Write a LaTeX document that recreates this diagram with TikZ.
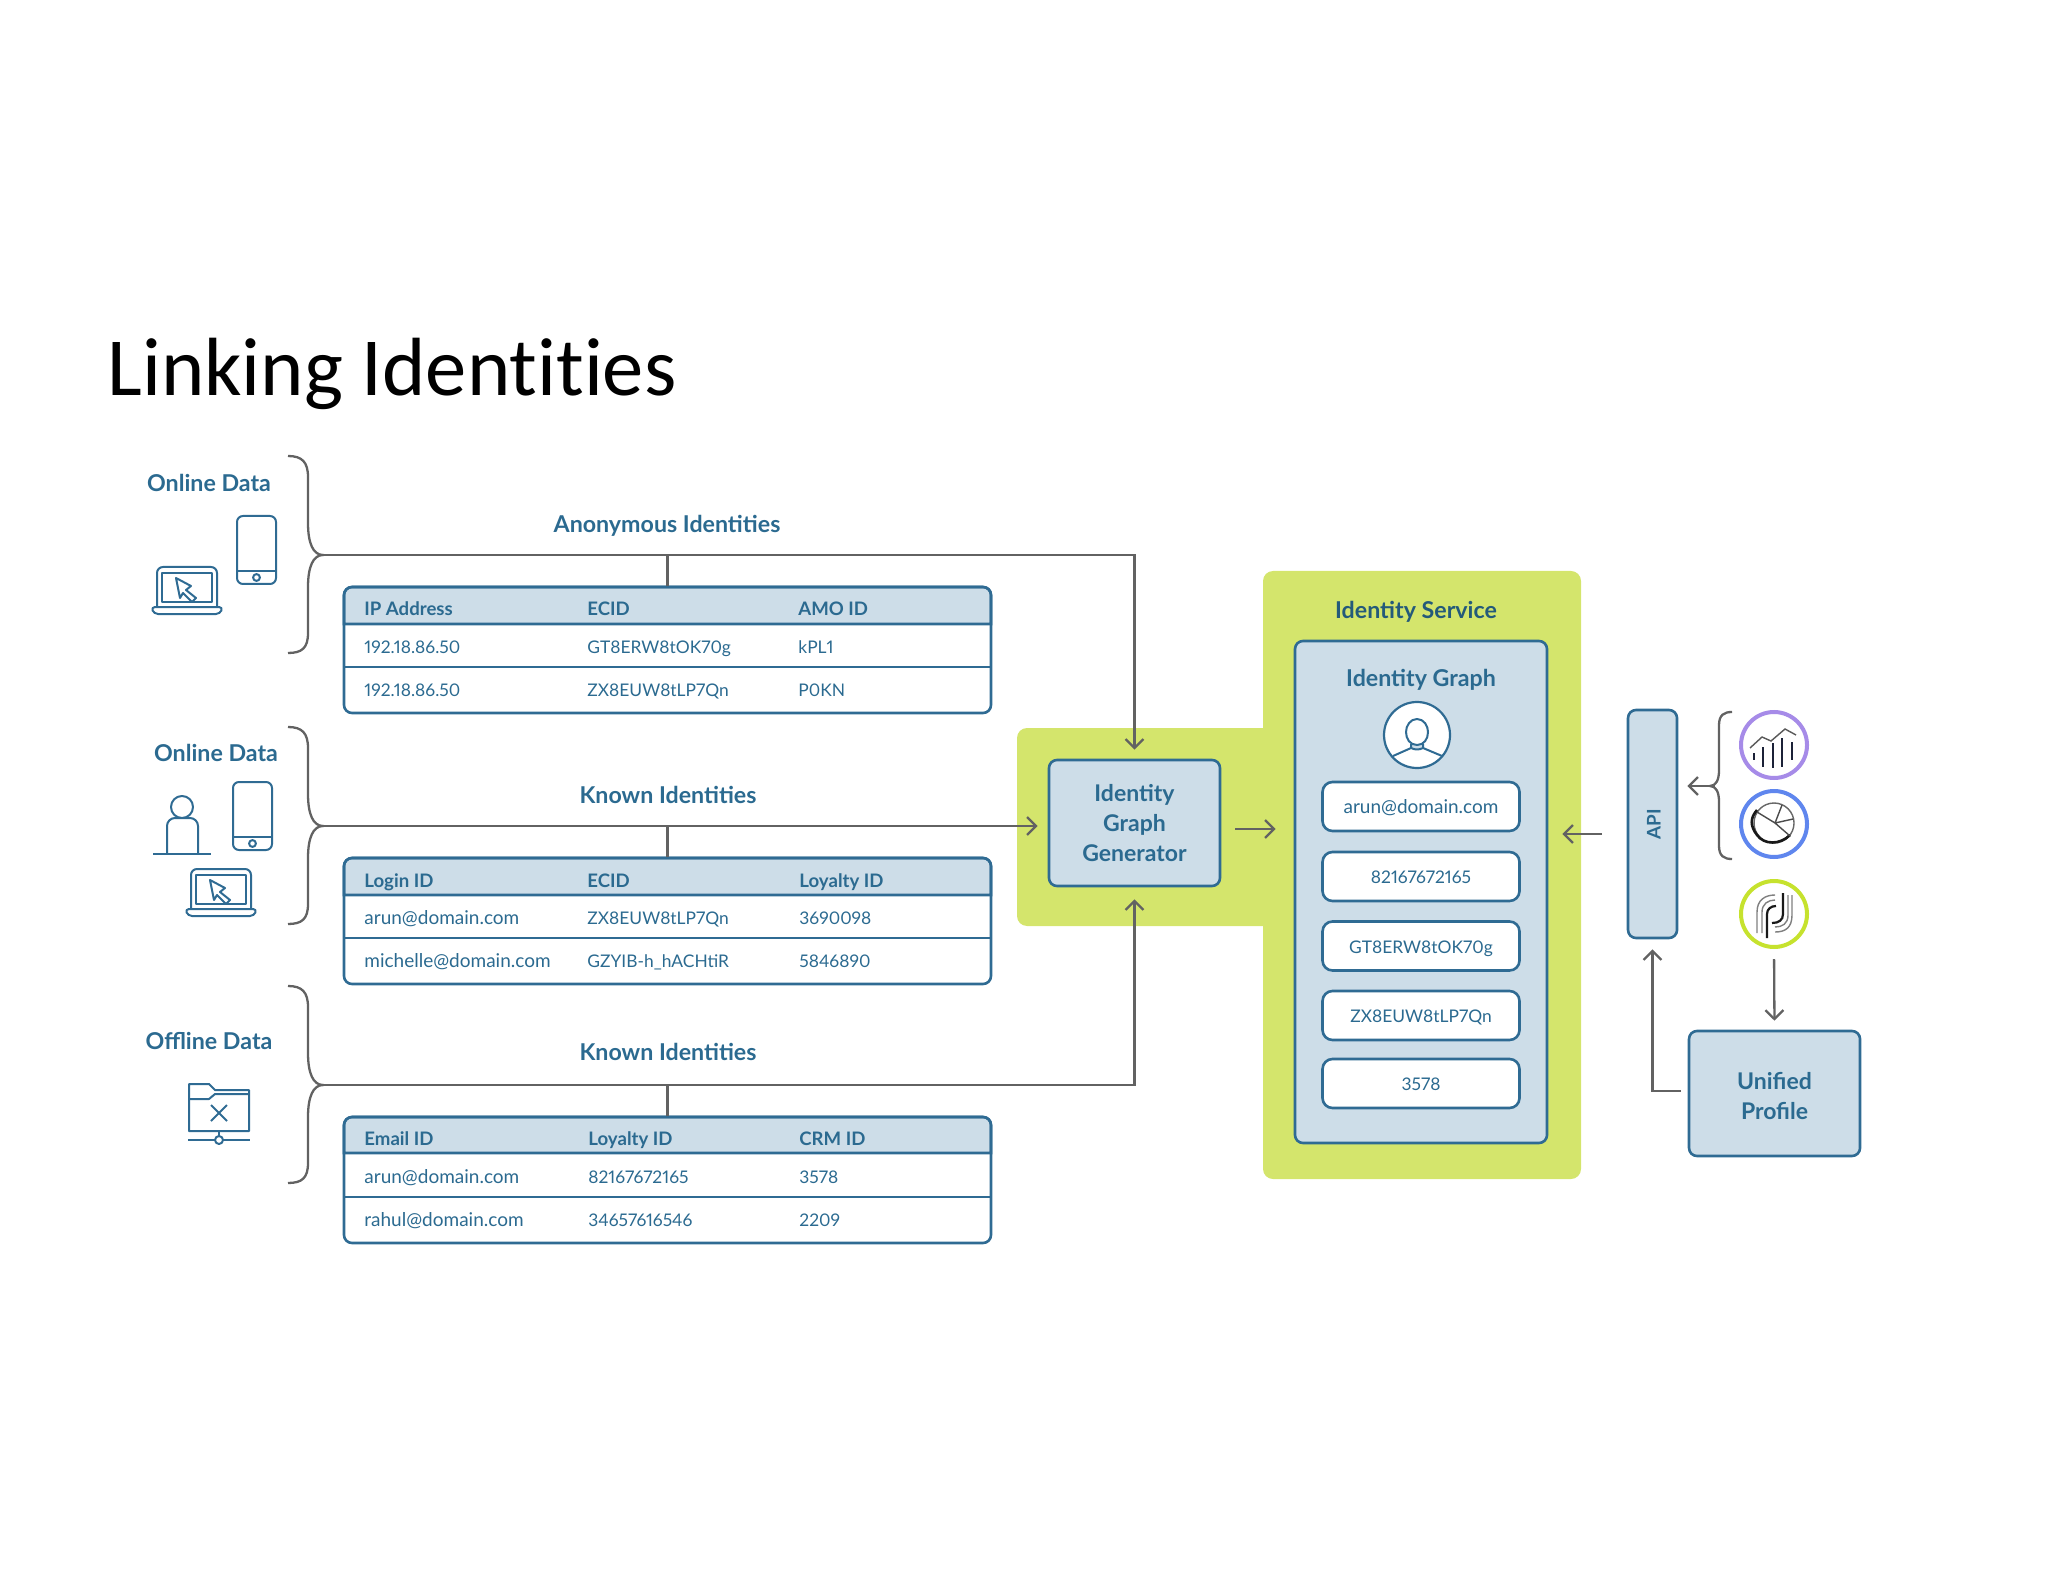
\documentclass[tikz,border=0pt]{standalone}
\usepackage{fontspec}
\setmainfont{Lato}[Numbers=Proportional]
\newfontfamily\titlefont{Carlito}[Ligatures=NoCommon]
\usetikzlibrary{arrows.meta, positioning}
\definecolor{lineBlue}{HTML}{2F6B93}
\definecolor{textBlue}{HTML}{2B6A90}
\definecolor{paleBlue}{HTML}{CDDDE8}
\definecolor{limeGreen}{HTML}{D4E56C}
\definecolor{flowGray}{HTML}{626262}
\definecolor{logoPurple}{HTML}{A68BE8}
\definecolor{logoBlue}{HTML}{5F86EE}
\definecolor{logoLime}{HTML}{C6E22E}
\definecolor{logoInk}{HTML}{1C2238}
\tikzset{
    >={Straight Barb[length=4.5pt,width=9pt]},
    % Panels
    greenPanel/.style={fill=limeGreen, rounded corners=5pt},
    box/.style={rectangle, draw=lineBlue, fill=paleBlue, line width=1.3pt, rounded corners=4pt, align=center,
                text=textBlue, font=\bfseries\fontsize{11.5}{15}\selectfont},
    pill/.style={rectangle, draw=lineBlue, fill=white, line width=1.3pt, rounded corners=5pt,
                 minimum width=98.5pt, minimum height=24.5pt, text height=7pt, text depth=0pt,
                 text=textBlue, font=\fontsize{9.5}{11}\selectfont},
    tbl/.style={rectangle, draw=lineBlue, line width=1.3pt, rounded corners=4pt, minimum width=323.5pt, minimum height=63pt},
    tblHead/.style={draw=lineBlue, fill=paleBlue, line width=1.3pt},
    tblRule/.style={draw=lineBlue, line width=1.3pt},
    cell/.style={anchor=west, inner sep=0pt, text height=7pt, text depth=0pt, text=textBlue, font=\fontsize{9.5}{11}\selectfont},
    headCell/.style={cell, font=\bfseries\fontsize{9.3}{11}\selectfont},
    code/.style={font=\fontsize{8.7}{11}\selectfont},
    lbl/.style={inner sep=0pt, text height=8pt, text depth=0pt, text=textBlue, font=\bfseries\fontsize{11.6}{13}\selectfont},
    logo/.style={circle, draw, fill=white, line width=2pt, minimum size=33pt, inner sep=0pt},
    % Flow & icons
    flow/.style={->, draw=flowGray, line width=1.15pt},
    curly/.style={draw=flowGray, line width=1.15pt},
    icon/.style={draw=lineBlue, line width=1pt, line join=round},
    phone/.pic={
        \draw[icon, rounded corners=3pt] (0,0) rectangle (39,68);
        \draw[icon] (0,55) -- (39,55);
        \draw[icon] (19.5,61.5) circle (1.7pt);
    },
    laptop/.pic={
        \draw[icon, rounded corners=3pt] (6,40) -- (6,0) -- (66,0) -- (66,40);
        \draw[icon] (11,6) rectangle (61,35);
        \draw[icon, rounded corners=2pt] (0,40) -- (72,40) -- (69,47) -- (3,47) -- cycle;
        \draw[icon] (25,11) -- (40,19) -- (35,23) -- (45,31) -- (41,35) -- (32,26) -- (29,31) -- cycle;
    },
    bigBrace/.pic={
        \coordinate (-tip) at (0,0);
        \draw[curly] (-35,-99) .. controls (-21,-99) and (-15,-93) .. (-15,-78) -- (-15,-32)
            .. controls (-15,-12) and (-10,0) .. (0,0) .. controls (-10,0) and (-15,12) .. (-15,32)
            -- (-15,78) .. controls (-15,93) and (-21,98) .. (-35,98);
    }
}

\begin{document}
\begin{tikzpicture}[x=0.5pt, y=-0.5pt]
\useasboundingbox (0,0) rectangle (2048,1582);

\node[anchor=base west, inner sep=0pt, font=\titlefont\fontsize{41.3}{44}\selectfont] (title) at (107,396) {Linking Identities};

% green background
\fill[greenPanel] (1017,728) rectangle (1300,926);
\fill[greenPanel] (1263,571) rectangle (1581,1179);

% left labels and icons
\node[lbl] (srcA) at (209,484) {Online Data};
\node[lbl] (srcB) at (216,753) {Online Data};
\node[lbl] (srcC) at (209,1041) {Offline Data};
\pic at (237,516) {phone};
\pic at (151,567) {laptop};
\pic at (233,782) {phone};
\pic at (185,869) {laptop};
\draw[icon] (182,807) circle (5.5pt);
\draw[icon, rounded corners=4pt] (167,854) -- (167,818) -- (198,818) -- (198,854);
\draw[icon] (153,854) -- (211,854);
\draw[icon] (189,1131) -- (189,1084) -- (209,1084) -- (215,1090) -- (249,1090) -- (249,1131) -- cycle;
\draw[icon] (189,1099) -- (209,1099) -- (215,1094) -- (249,1094);
\draw[icon] (211,1105) -- (227,1121) (227,1105) -- (211,1121);
\draw[icon] (219,1131) -- (219,1136);
\draw[icon] (219,1140) circle (2pt);
\draw[icon] (188,1140) -- (215,1140) (223,1140) -- (250,1140);

% braces
\pic (braceA) at (323,555) {bigBrace};
\pic (braceB) at (323,826) {bigBrace};
\pic (braceC) at (323,1085) {bigBrace};

\node[lbl] (anon) at (667,525) {Anonymous Identities};
\node[lbl] (knownA) at (668,795) {Known Identities};
\node[lbl] (knownB) at (668,1052) {Known Identities};

% table 1
\fill[tblHead] (344,624) [rounded corners=4pt] -- (344,587) -- (991,587) [sharp corners] -- (991,624) -- cycle;
\node[tbl] (tblA) at (667.5,650) {};
\draw[tblRule] (344,667) -- (991,667);
\node[headCell] (a1) at (364,608) {IP Address};
\node[headCell] (a2) at (587,608) {ECID};
\node[headCell] (a3) at (798,608) {AMO ID};
\node[cell, code] (a4) at (364,646) {192.18.86.50};
\node[cell, code] (a5) at (587,646) {GT8ERW8tOK70g};
\node[cell, code] (a6) at (798,646) {kPL1};
\node[cell, code] (a7) at (364,689) {192.18.86.50};
\node[cell, code] (a8) at (587,689) {ZX8EUW8tLP7Qn};
\node[cell, code] (a9) at (798,689) {P0KN};

% table 2
\fill[tblHead] (344,895) [rounded corners=4pt] -- (344,858) -- (991,858) [sharp corners] -- (991,895) -- cycle;
\node[tbl] (tblB) at (667.5,921) {};
\draw[tblRule] (344,938) -- (991,938);
\node[headCell] (b1) at (364,880) {Login ID};
\node[headCell] (b2) at (587,880) {ECID};
\node[headCell] (b3) at (799,880) {Loyalty ID};
\node[cell] (b4) at (364,917) {arun@domain.com};
\node[cell, code] (b5) at (587,917) {ZX8EUW8tLP7Qn};
\node[cell, code] (b6) at (799,917) {3690098};
\node[cell] (b7) at (364,960) {michelle@domain.com};
\node[cell, code] (b8) at (587,960) {GZYIB-h\_hACHtiR};
\node[cell, code] (b9) at (799,960) {5846890};

% table 3
\fill[tblHead] (344,1153) [rounded corners=4pt] -- (344,1117) -- (991,1117) [sharp corners] -- (991,1153) -- cycle;
\node[tbl] (tblC) at (667.5,1180) {};
\draw[tblRule] (344,1197) -- (991,1197);
\node[headCell] (c1) at (364,1138) {Email ID};
\node[headCell] (c2) at (588,1138) {Loyalty ID};
\node[headCell] (c3) at (799,1138) {CRM ID};
\node[cell] (c4) at (364,1176) {arun@domain.com};
\node[cell, code] (c5) at (588,1176) {82167672165};
\node[cell, code] (c6) at (799,1176) {3578};
\node[cell] (c7) at (364,1219) {rahul@domain.com};
\node[cell, code] (c8) at (588,1219) {34657616546};
\node[cell, code] (c9) at (799,1219) {2209};

% generator and graph
\node[box, minimum width=85.5pt, minimum height=63pt] (gen) at (1134.5,823) {Identity\\Graph\\Generator};
\node[lbl, text=textBlue!85!black] (service) at (1416,610) {Identity Service};
\node[box, minimum width=126pt, minimum height=251pt] (graph) at (1421,892) {};
\node[lbl] (graphLbl) at (1421,678) {Identity Graph};
\node[circle, draw=lineBlue, fill=white, line width=1.1pt, minimum size=33pt, inner sep=0pt] (avatar) at (1417,735) {};
\fill[paleBlue] (1411,744) rectangle (1423,749);
\draw[icon, fill=white] (1417,719) .. controls (1424,719) and (1428,726) .. (1428,732)
    .. controls (1428,739) and (1424,745) .. (1417,745) .. controls (1410,745) and (1406,739) .. (1406,732)
    .. controls (1406,726) and (1410,719) .. (1417,719) -- cycle;
\draw[icon] (1393,756) -- (1411,748) -- (1411,744) (1411,748) .. controls (1415,750) and (1419,750) .. (1423,748) -- (1423,744) (1423,748) -- (1442,756);
\node[pill] (pillA) at (1421,806.5) {arun@domain.com};
\node[pill, code] (pillB) at (1421,876.5) {82167672165};
\node[pill, code] (pillC) at (1421,946) {GT8ERW8tOK70g};
\node[pill, code] (pillD) at (1421,1015.5) {ZX8EUW8tLP7Qn};
\node[pill, code] (pillE) at (1421,1083.5) {3578};

% right side
\node[box, minimum width=24.5pt, minimum height=114pt] (api) at (1652.5,824) {};
\node[lbl, rotate=90, font=\bfseries\fontsize{9.4}{11}\selectfont] (apiLbl) at (api.center) {API};
\node[logo, draw=logoPurple] (logoA) at (1774,745) {};
\node[logo, draw=logoBlue] (logoB) at (1774,824) {};
\node[logo, draw=logoLime] (logoC) at (1774,914) {};
\node[box, minimum width=85.5pt, minimum height=62.5pt] (unified) at (1774.5,1093.5) {};
\node[inner sep=0pt, align=center, text=textBlue, font=\bfseries\fontsize{11.5}{15}\selectfont] (unifiedLbl) at (1774.5,1096) {Unified\\Profile};
\coordinate (braceD-tip) at (1710,786);
\coordinate (apiOut) at (1628,834);
\coordinate (genOut) at (1220,829);
\coordinate (unifiedOut) at (1689,1091);
\draw[curly] (1732,712) .. controls (1724,712) and (1719,715) .. (1719,725) -- (1719,770)
    .. controls (1719,780) and (1716,786) .. (braceD-tip) .. controls (1716,786) and (1719,792) .. (1719,802)
    -- (1719,846) .. controls (1719,856) and (1724,859) .. (1732,859);

% logo drawings
\draw[draw=logoInk, line width=1.4pt] (1754,753) -- (1754,760) (1763,747) -- (1763,767) (1773,743) -- (1773,768) (1782,738) -- (1782,767) (1792,742) -- (1792,760);
\draw[draw=black!65, line width=0.7pt] (1750,748) -- (1762,737) -- (1771,741) -- (1785,729) -- (1796,735);
\draw[draw=black!60, line width=0.7pt] (1774,823) circle (10pt);
\draw[draw=black!90, line width=1.3pt] (1790,835) .. controls (1780,845) and (1764,845) .. (1757,835) .. controls (1750,826) and (1750,818) .. (1757,810);
\draw[draw=black!70, line width=0.7pt] (1757,812) -- (1775,823) -- (1790,836) (1775,823) -- (1782,805) (1775,823) -- (1793,819);
\draw[draw=black!50, line width=0.7pt] (1757,933) -- (1757,912) .. controls (1757,900) and (1765,895) .. (1775,895);
\draw[draw=black!50, line width=0.7pt] (1762,933) -- (1762,912) .. controls (1762,904) and (1768,900) .. (1775,900);
\draw[draw=black!50, line width=0.7pt] (1792,895) -- (1792,915) .. controls (1792,928) and (1785,932) .. (1775,932);
\draw[draw=black!50, line width=0.7pt] (1788,895) -- (1788,915) .. controls (1788,924) and (1782,927) .. (1775,927);
\draw[draw=black!90, line width=1.1pt] (1767,938) -- (1767,914) .. controls (1767,909) and (1771,906) .. (1776,906);
\draw[draw=black!90, line width=1.1pt] (1783,893) -- (1783,914) .. controls (1783,920) and (1779,923) .. (1772,923);

% connectors
\draw[flow, shorten >=4.5pt] (braceA-tip) -| (gen.north);
\draw[curly] (tblA.north |- braceA-tip) -- (tblA.north);
\draw[flow, shorten >=5pt] (braceB-tip) -- (braceB-tip -| gen.west);
\draw[curly] (tblB.north |- braceB-tip) -- (tblB.north);
\draw[flow, shorten >=6pt] (braceC-tip) -| (gen.south);
\draw[curly] (tblC.north |- braceC-tip) -- (tblC.north);
\draw[flow, shorten <=7.5pt, shorten >=9pt] (genOut) -- (genOut -| graph.west);
\draw[flow, shorten <=13pt, shorten >=7pt] (apiOut) -- (apiOut -| graph.east);
\draw[flow, shorten >=4.5pt] (braceD-tip) -- (braceD-tip -| api.east);
\draw[flow, shorten <=5pt, shorten >=4.5pt] (logoC.south) -- (unified.north);
\draw[flow, shorten <=4pt, shorten >=5pt] (unifiedOut) -| (api.south);

\end{tikzpicture}
\end{document}
